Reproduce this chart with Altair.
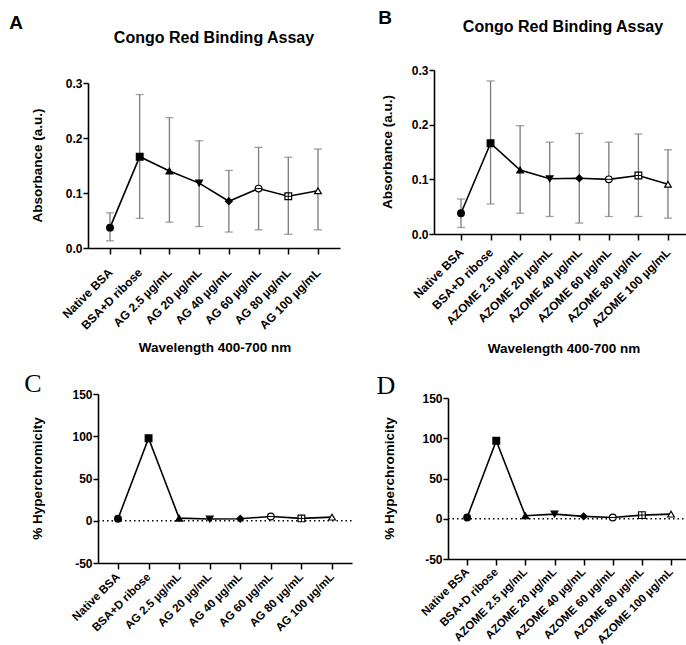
import altair as alt
import pandas as pd

# ---------------- data ----------------
cats_ag = ["Native BSA", "BSA+D ribose", "AG 2.5 µg/mL", "AG 20 µg/mL",
           "AG 40 µg/mL", "AG 60 µg/mL", "AG 80 µg/mL", "AG 100 µg/mL"]
cats_az = ["Native BSA", "BSA+D ribose", "AZOME 2.5 µg/mL", "AZOME 20 µg/mL",
           "AZOME 40 µg/mL", "AZOME 60 µg/mL", "AZOME 80 µg/mL", "AZOME 100 µg/mL"]

abs_ag = [0.037, 0.166, 0.140, 0.118, 0.085, 0.108, 0.094, 0.104]
abs_ag_lo = [0.013, 0.054, 0.047, 0.039, 0.029, 0.033, 0.025, 0.033]
abs_ag_hi = [0.064, 0.279, 0.237, 0.195, 0.141, 0.183, 0.165, 0.180]

abs_az = [0.038, 0.166, 0.117, 0.101, 0.102, 0.100, 0.107, 0.091]
abs_az_lo = [0.012, 0.055, 0.038, 0.032, 0.020, 0.032, 0.032, 0.029]
abs_az_hi = [0.064, 0.280, 0.198, 0.168, 0.184, 0.168, 0.183, 0.154]

hyp_ag = [2.4, 97.6, 3.1, 2.0, 2.4, 5.1, 2.8, 4.3]
hyp_az = [1.6, 96.9, 3.7, 5.8, 2.9, 1.6, 4.5, 5.8]

abs_ticks = [0.0, 0.1, 0.2, 0.3]
hyp_ticks = [-50, 0, 50, 100, 150]

marker_shapes = ["circle", "square", "triangle-up", "triangle-down",
                 "diamond", "circle", "square", "triangle-up"]
marker_fill = ["black", "black", "black", "black", "black", "white", "white", "white"]
marker_inner = ["", "", "", "", "", "M-1,0L1,0", "M-1,0L1,0M0,-1L0,1", ""]

FONT = "Liberation Sans"
ERR = "#7a7a7a"


def one_row():
    return alt.Chart(pd.DataFrame({"k": [0]}))


def text_mark(txt, x, y, size, font=FONT, weight="bold", angle=0, baseline="alphabetic"):
    return one_row().mark_text(
        text=txt, font=font, fontSize=size, fontWeight=weight, angle=angle,
        align="center", baseline=baseline, color="black"
    ).encode(x=alt.value(x), y=alt.value(y))


def panel(cats, vals, lo, hi, ydom, yrange, yticks, yfmt, xrange, pad, align,
          width, height, yoffset, lpad, lsize, texts, zero=False):
    df = pd.DataFrame({"cat": cats, "v": vals, "i": list(range(len(cats))),
                       "inner": marker_inner})
    if lo is not None:
        df["lo"] = lo
        df["hi"] = hi
    base = alt.Chart(df)
    x = alt.X("cat:N", sort=cats, title=None,
              scale=alt.Scale(type="point", range=xrange, padding=pad, align=align),
              axis=alt.Axis(labelAngle=315, labelAlign="right", labelBaseline="middle",
                            labelPadding=lpad, labelFontSize=lsize, labelFontWeight="bold",
                            labelFont=FONT, labelColor="black", domainColor="black",
                            domainWidth=1.6, tickColor="black", tickWidth=1.5,
                            tickSize=6, grid=False, labelLimit=300))
    yaxis = alt.Axis(values=yticks, labelExpr=yfmt, labelFontSize=12,
                     labelFontWeight="bold", labelFont=FONT, labelColor="black",
                     domainColor="black", domainWidth=1.6, tickColor="black",
                     tickWidth=1.5, tickSize=5, grid=False, labelPadding=1,
                     offset=yoffset)
    yscale = alt.Scale(domain=ydom, range=yrange, nice=False, zero=False)
    layers = []
    if zero:
        layers.append(one_row().mark_rule(color="black", strokeWidth=1.5,
                                          strokeDash=[1.5, 3]).encode(
            y=alt.Y(datum=0, scale=yscale, axis=yaxis, title=None),
            x=alt.value(xrange[0]), x2=alt.value(xrange[1])))
    y = alt.Y("v:Q", scale=yscale, axis=yaxis, title=None)
    if lo is not None:
        layers.append(base.mark_rule(color=ERR, strokeWidth=1.3).encode(
            x=x, y=alt.Y("lo:Q", scale=yscale, axis=yaxis, title=None), y2="hi:Q"))
        layers.append(base.mark_tick(color=ERR, size=8, thickness=1.3).encode(
            x=x, y=alt.Y("lo:Q", scale=yscale, axis=yaxis, title=None)))
        layers.append(base.mark_tick(color=ERR, size=8, thickness=1.3).encode(
            x=x, y=alt.Y("hi:Q", scale=yscale, axis=yaxis, title=None)))
    layers.append(base.mark_line(color="black", strokeWidth=1.6).encode(x=x, y=y))
    layers.append(base.mark_point(filled=True, stroke="black", strokeWidth=1.2,
                                  size=45, opacity=1).encode(
        x=x, y=y,
        shape=alt.Shape("i:N", scale=alt.Scale(domain=list(range(8)), range=marker_shapes),
                        legend=None),
        fill=alt.Fill("i:N", scale=alt.Scale(domain=list(range(8)), range=marker_fill),
                      legend=None)))
    layers.append(base.transform_filter("datum.inner != ''").mark_point(
        filled=False, stroke="black", strokeWidth=1, size=45, opacity=1).encode(
        x=x, y=y, shape=alt.Shape("inner:N", scale=None, legend=None)))
    for t in texts:
        layers.append(t)
    return alt.layer(*layers).properties(width=width, height=height)


abs_fmt = "format(datum.value, '.1f')"
hyp_fmt = "'' + datum.value"

pA = panel(cats_ag, abs_ag, abs_ag_lo, abs_ag_hi, [0, 0.3], [178, 13], abs_ticks, abs_fmt,
           [0, 252], 0.74, 0.5, 264, 178, 0, 16, 12,
           [text_mark("A", -72, -41.5, 19),
            text_mark("Congo Red Binding Assay", 126, -27, 16),
            text_mark("Absorbance (a.u.)", -50, 95.5, 13.5, angle=270, baseline="middle"),
            text_mark("Wavelength 400-700 nm", 127, 282, 13.5)])

pB = panel(cats_az, abs_az, abs_az_lo, abs_az_hi, [0, 0.3], [164, 0], abs_ticks, abs_fmt,
           [0, 254], 0.795, 0.574, 254, 164, 0, 10, 12,
           [text_mark("B", -49, -46.5, 19),
            text_mark("Congo Red Binding Assay", 129, -38.5, 16),
            text_mark("Absorbance (a.u.)", -46, 82, 13.5, angle=270, baseline="middle"),
            text_mark("Wavelength 400-700 nm", 130, 283, 13.5)])

pC = panel(cats_ag, hyp_ag, None, None, [-50, 150], [169, 0], hyp_ticks, hyp_fmt,
           [10, 264], 0.654, 0.5, 264, 169, -10, 6, 11.5,
           [text_mark("C", -55, -2, 26, font="Liberation Serif", weight="normal"),
            text_mark("% Hyperchromicity", -50, 84.5, 13.5, angle=270, baseline="middle")],
           zero=True)

pD = panel(cats_az, hyp_az, None, None, [-50, 150], [165, 4], hyp_ticks, hyp_fmt,
           [14, 254], 0.62, 0.53, 254, 165, -14, 5, 11.5,
           [text_mark("D", -48, 0, 26, font="Liberation Serif", weight="normal"),
            text_mark("% Hyperchromicity", -44, 84.5, 13.5, angle=270, baseline="middle")],
           zero=True)

chart = alt.concat(pA, pB, pC, pD, columns=2,
                   spacing={"row": 146, "column": 82}, bounds="flush").properties(
    autosize=alt.AutoSizeParams(type="none"),
    padding={"left": 88, "top": 70, "right": 598, "bottom": 575},
    background="white",
).configure_view(stroke=None)

chart.save("out.html", embed_options={"renderer": "svg", "actions": False})
